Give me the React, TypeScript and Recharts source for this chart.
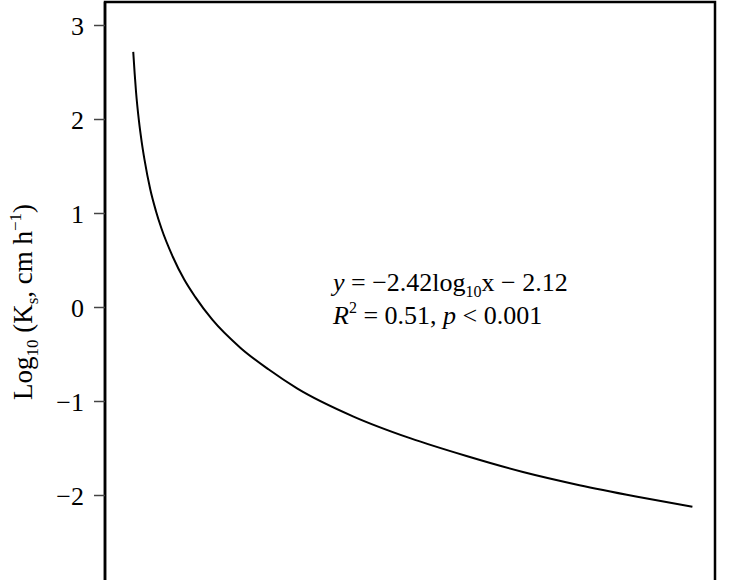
import React from "react";
import { LineChart, Line, XAxis, YAxis, ReferenceArea, Customized } from "recharts";

// Fitted curve values (x, log10 Ks)
const xValues = [0.01, 0.0125, 0.015, 0.02, 0.025, 0.03, 0.04, 0.05, 0.06, 0.08, 0.1, 0.12, 0.15, 0.2, 0.25, 0.3, 0.4, 0.5, 0.6, 0.7, 0.8, 0.9, 1.0];
const yValues = [2.72, 2.49, 2.29, 1.99, 1.76, 1.57, 1.26, 1.03, 0.84, 0.54, 0.3, 0.11, -0.13, -0.43, -0.66, -0.86, -1.16, -1.39, -1.58, -1.75, -1.89, -2.01, -2.12];
const yTicks = [-3, -2, -1, 0, 1, 2, 3];

const data = xValues.map((x, i) => ({ x, y: yValues[i] }));

const FONT = "'Liberation Serif', 'Times New Roman', serif";

const fmt = (v: number) => (v < 0 ? "\u2212" + Math.abs(v) : String(v));

const Annotations = () => (
  <g fontFamily={FONT} fill="#000">
    <text x={32} y={302} transform="rotate(-90 32 302)" textAnchor="middle" fontSize={27}>
      <tspan>Log</tspan>
      <tspan fontSize={17} dy={6}>10</tspan>
      <tspan dy={-6}> (K</tspan>
      <tspan fontSize={17} dy={6}>s</tspan>
      <tspan dy={-6}>, cm h</tspan>
      <tspan fontSize={17} dy={-11}>{"\u22121"}</tspan>
      <tspan dy={11}>)</tspan>
    </text>
    <text x={333} y={291} fontSize={26}>
      <tspan fontStyle="italic">y</tspan>
      <tspan>{" = \u22122.42log"}</tspan>
      <tspan fontSize={16} dy={6}>10</tspan>
      <tspan dy={-6}>{"x \u2212 2.12"}</tspan>
    </text>
    <text x={333} y={324} fontSize={26}>
      <tspan fontStyle="italic">R</tspan>
      <tspan fontSize={16} dy={-11}>2</tspan>
      <tspan dy={11}>{" = 0.51, "}</tspan>
      <tspan fontStyle="italic">p</tspan>
      <tspan>{" < 0.001"}</tspan>
    </text>
  </g>
);

export default function App() {
  return (
    <div style={{ position: "absolute", left: 0, top: 0, width: 736, height: 580, overflow: "hidden", background: "#fff" }}>
      <LineChart
        width={736}
        height={640}
        data={data}
        margin={{ top: 2, right: 21, bottom: 3.5, left: 0 }}
      >
        <XAxis dataKey="x" type="number" domain={[-0.04, 1.04]} hide />
        <YAxis
          type="number"
          domain={[-3.5, 3.25]}
          ticks={yTicks}
          width={105}
          tickFormatter={fmt}
          axisLine={{ stroke: "#000", strokeWidth: 2.5 }}
          tickLine={{ stroke: "#444", strokeWidth: 1.5 }}
          tickSize={11}
          tickMargin={10}
          fontSize={26}
          tick={{ fill: "#000", fontSize: 26, fontFamily: FONT }}
          allowDataOverflow
        />
        <ReferenceArea x1={-0.04} x2={1.04} y1={-3.5} y2={3.25} fill="none" stroke="#000" strokeWidth={2.5} ifOverflow="visible" />
        <Line
          type="monotone"
          dataKey="y"
          stroke="#000"
          strokeWidth={2}
          dot={false}
          isAnimationActive={false}
        />
        <Customized component={Annotations} />
      </LineChart>
    </div>
  );
}
